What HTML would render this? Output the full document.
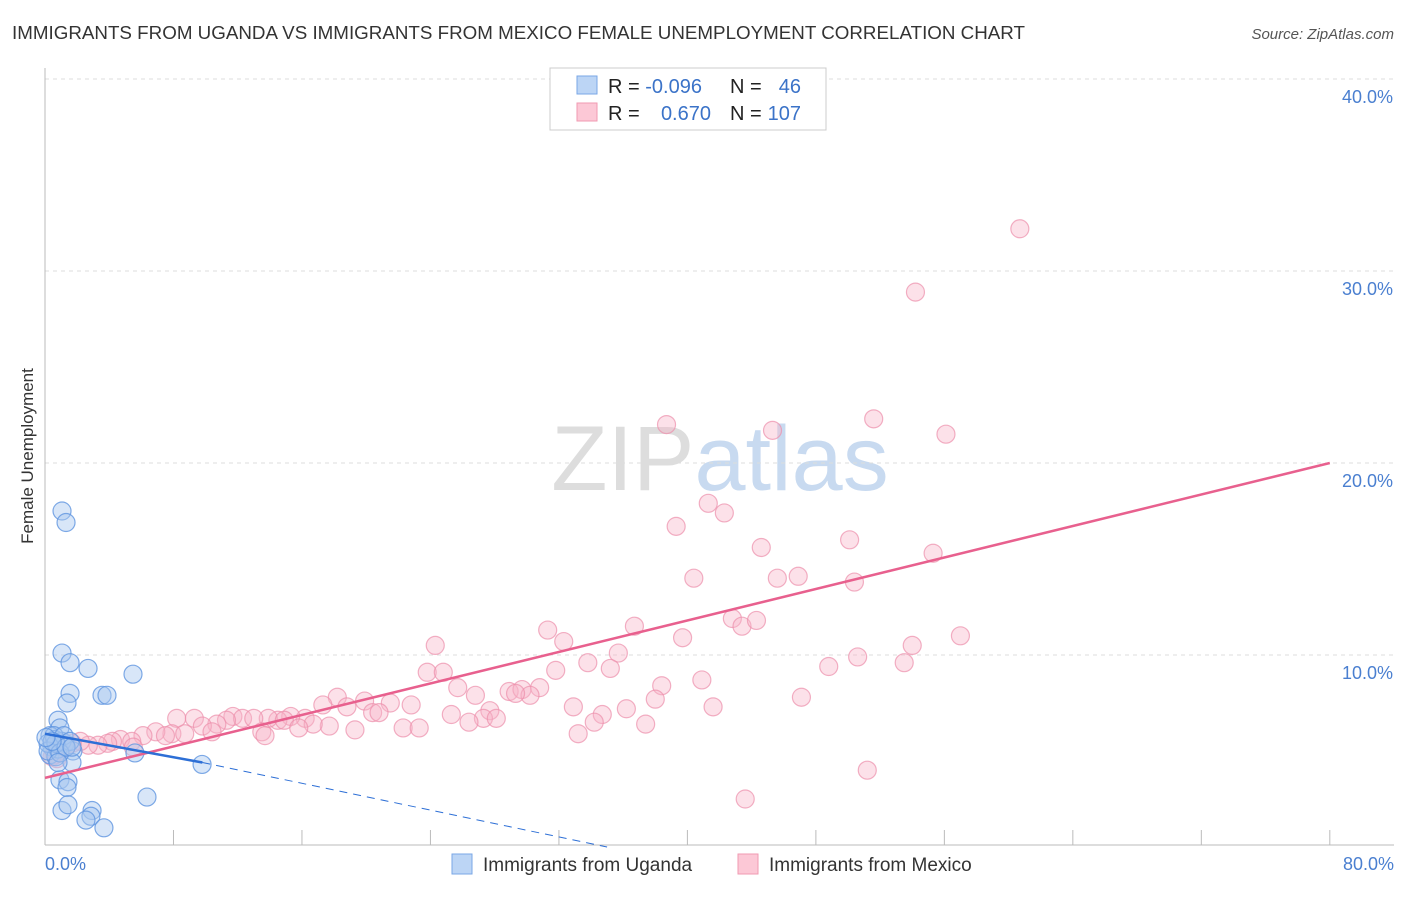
<!DOCTYPE html>
<html><head><meta charset="utf-8"><style>
body{margin:0;background:#fff;font-family:"Liberation Sans",sans-serif;}
svg text{font-family:"Liberation Sans",sans-serif;}
</style></head><body>
<svg id="chart" width="1406" height="892" xmlns="http://www.w3.org/2000/svg">
<text x="12" y="39" font-size="18" fill="#333" textLength="1013" lengthAdjust="spacingAndGlyphs">IMMIGRANTS FROM UGANDA VS IMMIGRANTS FROM MEXICO FEMALE UNEMPLOYMENT CORRELATION CHART</text>
<text x="1394" y="39" font-size="15" fill="#555" font-style="italic" text-anchor="end">Source: ZipAtlas.com</text>
<text x="720" y="490" font-size="92" text-anchor="middle" fill="#ddd" font-family="Liberation Serif">ZIP<tspan fill="#c8daf0" font-family="Liberation Sans">atlas</tspan></text>
<g id="grid"></g>
<line x1="45" y1="68" x2="45" y2="845" stroke="#bbb"/>
<line x1="45" y1="845" x2="1394" y2="845" stroke="#bbb"/>
<text transform="translate(33,456) rotate(-90)" font-size="17" fill="#333" text-anchor="middle">Female Unemployment</text>
<text x="45" y="870" font-size="18" fill="#4a7fd0">0.0%</text>
<text x="1394" y="870" font-size="18" fill="#4a7fd0" text-anchor="end">80.0%</text>
<g id="pts"></g>
<g id="lines"></g>
<g>
<rect x="550" y="68" width="276" height="62" fill="#fff" stroke="#ccc"/>
<rect x="577" y="76" width="20" height="18" fill="#bcd5f5" stroke="#7aa7e6"/>
<rect x="577" y="103" width="20" height="18" fill="#fcc8d6" stroke="#f09ab2"/>
<text x="608" y="93" font-size="20" fill="#222">R = <tspan fill="#3b73c8">-0.096</tspan></text>
<text x="730" y="93" font-size="20" fill="#222">N = </text><text x="801" y="93" font-size="20" fill="#3b73c8" text-anchor="end">46</text>
<text x="608" y="120" font-size="20" fill="#222">R = </text><text x="711" y="120" font-size="20" fill="#3b73c8" text-anchor="end">0.670</text>
<text x="730" y="120" font-size="20" fill="#222">N = </text><text x="801" y="120" font-size="20" fill="#3b73c8" text-anchor="end">107</text>
</g>
<g>
<rect x="452" y="854" width="20" height="20" fill="#bcd5f5" stroke="#7aa7e6"/>
<text x="483" y="871" font-size="19" fill="#333">Immigrants from Uganda</text>
<rect x="738" y="854" width="20" height="20" fill="#fcc8d6" stroke="#f09ab2"/>
<text x="769" y="871" font-size="19" fill="#333">Immigrants from Mexico</text>
</g>
</svg>
<script>
const yTicks=[10,20,30,40];
const xTicks=[0,8,16,24,32,40,48,56,64,72,80];
const ugandaX=[1.06,1.31,1.06,1.56,2.68,5.48,1.56,1.37,3.55,3.86,0.81,0.93,0.31,0.62,0.44,0.31,0.68,1.25,1.74,1.68,0.93,1.43,1.37,1.06,1.43,2.93,2.86,2.55,3.67,6.35,5.6,9.78,0.19,0.81,1.06,0.56,1.18,1.56,0.19,0.68,0.93,1.31,1.68,0.44,0.06,0.81];
const ugandaY=[17.5,16.9,10.1,9.6,9.3,9.0,8.0,7.5,7.9,7.9,6.6,6.2,5.8,5.6,5.2,4.8,4.7,5.4,5.0,4.4,3.5,3.4,3.1,1.9,2.2,1.9,1.6,1.4,1.0,2.6,4.9,4.3,5.4,5.1,5.5,5.8,5.8,5.5,5.0,5.4,4.9,5.2,5.2,5.5,5.7,4.4];
const mexicoX=[60.7,54.2,38.7,51.6,45.3,56.1,41.3,39.3,42.3,50.1,44.6,55.3,40.4,45.6,46.9,50.4,42.8,43.4,44.3,31.3,36.7,32.3,24.3,39.7,54.0,57.0,35.7,50.6,33.8,31.8,48.8,53.5,35.2,23.8,24.8,25.7,38.4,40.9,30.8,26.8,28.9,29.7,30.2,29.3,38.0,18.2,19.9,18.8,21.5,22.8,17.3,20.4,47.1,41.6,32.9,36.2,34.7,27.7,27.3,25.3,26.4,20.8,28.1,34.2,37.4,33.2,22.3,23.3,19.3,17.7,16.2,15.3,14.5,13.9,16.7,14.9,15.8,11.7,12.3,13.0,11.3,10.7,8.2,9.3,9.8,13.5,13.7,7.9,6.9,7.5,8.7,10.4,6.1,4.7,4.2,5.4,3.9,3.3,2.7,2.2,1.7,1.3,0.93,0.62,0.44,0.75,43.6,51.2,5.5];
const mexicoY=[32.2,28.9,22.0,22.3,21.7,21.5,17.9,16.7,17.4,16.0,15.6,15.3,14.0,14.0,14.1,13.8,11.9,11.5,11.8,11.3,11.5,10.7,10.5,10.9,10.5,11.0,10.1,9.9,9.6,9.2,9.4,9.6,9.3,9.1,9.1,8.3,8.4,8.7,8.3,7.9,8.1,8.2,7.9,8.0,7.7,7.8,7.6,7.3,7.5,7.4,7.4,7.0,7.8,7.3,7.3,7.2,6.9,7.1,6.7,6.9,6.5,7.0,6.7,6.5,6.4,5.9,6.2,6.2,6.1,6.3,6.7,6.8,6.6,6.7,6.4,6.6,6.2,6.8,6.7,6.7,6.6,6.4,6.7,6.7,6.3,6.0,5.8,5.9,6.0,5.8,5.9,6.0,5.8,5.6,5.5,5.5,5.4,5.3,5.3,5.5,5.4,5.2,5.0,4.8,4.7,4.6,2.5,4.0,5.2];
const mexicoLine=[0,3.6,80,20.0];
const ugandaLine=[0,5.9,9.8,4.4,35,0];
const X=v=>45+v*16.06, Y=v=>847-v*19.2;
const NS='http://www.w3.org/2000/svg';
function mk(t,a,p){const e=document.createElementNS(NS,t);for(const k in a)e.setAttribute(k,a[k]);p.appendChild(e);return e;}
const grid=document.getElementById('grid');
yTicks.forEach(v=>{
 const l=mk('line',{x1:45,x2:1394,y1:Y(v),y2:Y(v),stroke:'#ddd','stroke-dasharray':'4,4'},grid);
 
 
 const t=mk('text',{x:1393,y:Y(v)+24,'font-size':18,fill:'#4a7fd0','text-anchor':'end'},grid);
 t.textContent=v.toFixed(1)+'%';
 
 
});
xTicks.forEach(v=>{
 const l=mk('line',{x1:X(v),x2:X(v),y1:830,y2:845,stroke:'#bbb'},grid);
 
 
});
const pts=document.getElementById('pts');
mexicoX.forEach((v,i)=>{
 const c=mk('circle',{cx:X(v),cy:Y(mexicoY[i]),r:9,fill:'#f8b4c8','fill-opacity':0.4,stroke:'#ec8fab','stroke-opacity':0.7,'stroke-width':1.2},pts);
 
 
});
ugandaX.forEach((v,i)=>{
 const c=mk('circle',{cx:X(v),cy:Y(ugandaY[i]),r:9,fill:'#a9c8f0','fill-opacity':0.45,stroke:'#5f95e0','stroke-opacity':0.8,'stroke-width':1.2},pts);
 
 
});
const lines=document.getElementById('lines');
let m=mk('line',{x1:X(mexicoLine[0]),y1:Y(mexicoLine[1]),x2:X(mexicoLine[2]),y2:Y(mexicoLine[3]),stroke:'#e8608e','stroke-width':2.5},lines);


let u=mk('line',{x1:X(ugandaLine[0]),y1:Y(ugandaLine[1]),x2:X(ugandaLine[2]),y2:Y(ugandaLine[3]),stroke:'#2d6fd6','stroke-width':2.5},lines);


let ud=mk('line',{x1:X(ugandaLine[2]),y1:Y(ugandaLine[3]),x2:X(ugandaLine[4]),y2:Y(ugandaLine[5]),stroke:'#2d6fd6','stroke-width':1,'stroke-dasharray':'8,6'},lines);


</script>
</body></html>
